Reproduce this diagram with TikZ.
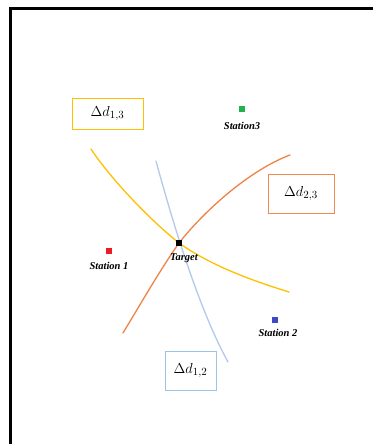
\documentclass[tikz,border=0pt]{standalone}
\usepackage{fontspec}
\newfontfamily\labelfont{Liberation Serif}
\begin{document}
\definecolor{cyellow}{HTML}{FFC000}
\definecolor{corange}{HTML}{EE8446}
\definecolor{cblue}{HTML}{B4C9EA}
\definecolor{cboxorange}{HTML}{ED8A50}
\definecolor{cboxblue}{HTML}{9DC3E6}
\definecolor{cgreen}{HTML}{22B14C}
\definecolor{cred}{HTML}{ED1C24}
\definecolor{cnavy}{HTML}{3F48CC}
\begin{tikzpicture}[x=1pt,y=-1pt,
  station/.style={rectangle,inner sep=0pt,minimum size=6.5pt},
  slabel/.style={font=\labelfont\bfseries\itshape\fontsize{10.5}{11}\selectfont,inner sep=0pt},
  dbox/.style={rectangle,draw,line width=0.9pt,inner sep=0pt,font=\fontsize{15}{17}\selectfont},
  hyper/.style={line width=1.3pt,line cap=round}]
\useasboundingbox (0,0) rectangle (373,444);
\fill[white] (0,0) rectangle (373,444);
% frame
\draw[line width=2.4pt] (10.5,444) -- (10.5,8.5) -- (373,8.5);
% hyperbola branches through the target position
\coordinate (tgpos) at (179,243);
\draw[hyper,cblue] (156,161) .. controls (175,231) and (200.5,312) .. (228,362);
\draw[hyper,cyellow] (91,149) .. controls (110,178) and (150,220) .. (tgpos)
  .. controls (210,265) and (250,280) .. (289,292);
\draw[hyper,corange] (123,333) .. controls (140,305) and (160,270) .. (tgpos)
  .. controls (205,210) and (250,170) .. (290,155);
% target and stations
\node[station,fill=black,minimum size=6pt] (tg) at (tgpos) {};
\node[slabel] (tgl) at (184,258) {Target};
\node[station,fill=cgreen] (s3) at (242,109) {};
\node[slabel] (s3l) at (242,126) {Station3};
\node[station,fill=cred] (s1) at (109,251) {};
\node[slabel] (s1l) at (109,266) {Station 1};
\node[station,fill=cnavy] (s2) at (275,320) {};
\node[slabel] (s2l) at (278,333) {Station 2};
% range-difference labels
\node[dbox,draw=cyellow,minimum width=71pt,minimum height=31pt] (d13) at (107.5,113.5) {$\Delta d_{1,3}$};
\node[dbox,draw=cboxorange,minimum width=66pt,minimum height=39pt] (d23) at (301,193.5) {$\Delta d_{2,3}$};
\node[dbox,draw=cboxblue,minimum width=51pt,minimum height=39pt] (d12) at (190.5,370.5) {$\Delta d_{1,2}$};
\end{tikzpicture}
\end{document}
